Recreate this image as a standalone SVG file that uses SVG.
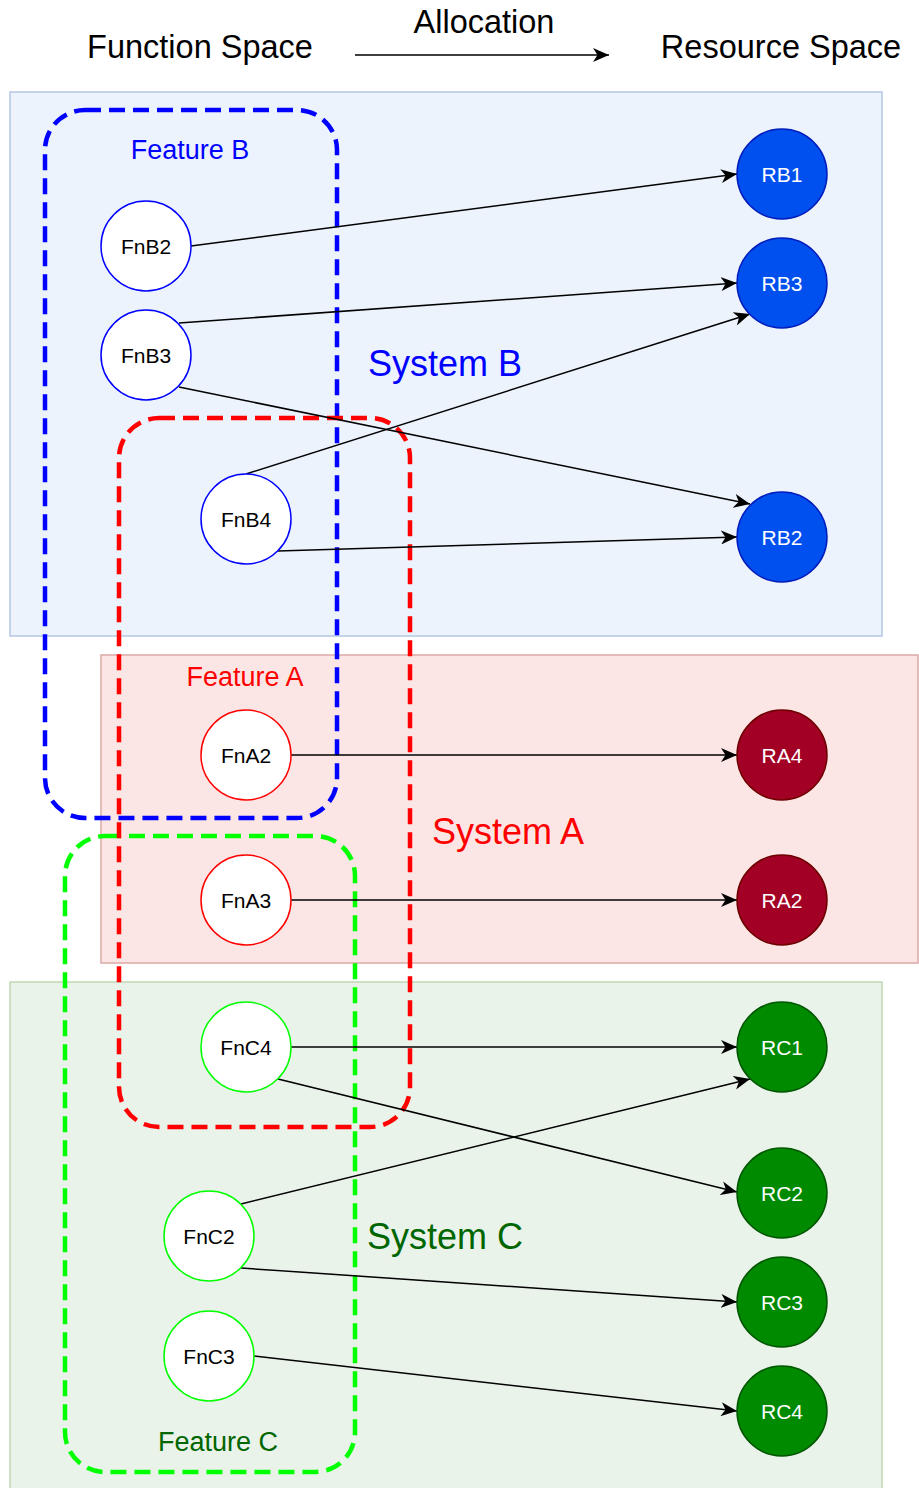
<svg xmlns="http://www.w3.org/2000/svg" width="919" height="1488" viewBox="0 0 919 1488">
  <style>
    text { font-family: "Liberation Sans", Arial, Helvetica, sans-serif; text-anchor: middle; }
    .head { font-size: 32.5px; fill: #000000; }
    .feat { font-size: 27px; }
    .sys { font-size: 36px; }
    .lbl { font-size: 21px; fill: #000000; }
    .rlbl { font-size: 21px; fill: #ffffff; }
    .fn { fill: #ffffff; stroke-width: 1.5; }
    .edge { fill: none; stroke: #000000; stroke-width: 1.5; marker-end: url(#arrow); }
    .group { fill: none; stroke-width: 4.5; stroke-dasharray: 16 8; }
  </style>
  <defs>
    <marker id="arrow" markerUnits="userSpaceOnUse" markerWidth="18" markerHeight="14" refX="16" refY="7" orient="auto">
      <path d="M0,0 L16,7 L0,14 L4.5,7 Z" fill="#000000"/>
    </marker>
  </defs>

  <!-- header -->
  <g id="header">
    <text class="head" x="200" y="58">Function Space</text>
    <text class="head" x="484" y="33">Allocation</text>
    <text class="head" x="781" y="58">Resource Space</text>
    <line class="edge" x1="355" y1="55" x2="609" y2="55"/>
  </g>

  <!-- system panels -->
  <g id="system-b">
    <rect x="10" y="92" width="872" height="544" fill="#ecf3fd" stroke="#b4c7e3" stroke-width="1.5"/>
    <text class="sys" x="445" y="376" fill="#0000ff">System B</text>
  </g>
  <g id="system-a">
    <rect x="101" y="655" width="817" height="308" fill="#fbe6e5" stroke="#dba9a7" stroke-width="1.5"/>
    <text class="sys" x="508" y="844" fill="#ff0000">System A</text>
  </g>
  <g id="system-c">
    <rect x="10" y="982" width="872" height="520" fill="#eaf3ea" stroke="#c0d9b2" stroke-width="1.5"/>
    <text class="sys" x="445" y="1249" fill="#006600">System C</text>
  </g>

  <!-- feature groupings -->
  <g id="feature-b">
    <rect class="group" x="45" y="110" width="292" height="708" rx="40" ry="40" stroke="#0000ff"/>
    <text class="feat" x="190" y="158.5" fill="#0000ff">Feature B</text>
  </g>
  <g id="feature-c">
    <rect class="group" x="65" y="836" width="290" height="636" rx="40" ry="40" stroke="#00ff00"/>
    <text class="feat" x="218" y="1450.5" fill="#006600">Feature C</text>
  </g>
  <g id="feature-a">
    <rect class="group" x="119" y="418" width="291" height="709" rx="40" ry="40" stroke="#ff0000"/>
    <text class="feat" x="245" y="685.5" fill="#ff0000">Feature A</text>
  </g>

  <!-- allocation connectors -->
  <g id="connectors">
    <line class="edge" x1="191" y1="246" x2="737" y2="174"/>
    <line class="edge" x1="179" y1="323" x2="737" y2="283"/>
    <line class="edge" x1="179" y1="387" x2="750" y2="504"/>
    <line class="edge" x1="246" y1="474" x2="750" y2="314"/>
    <line class="edge" x1="278" y1="551" x2="737" y2="537"/>
    <line class="edge" x1="291" y1="755" x2="737" y2="755"/>
    <line class="edge" x1="291" y1="900" x2="737" y2="900"/>
    <line class="edge" x1="291" y1="1047" x2="737" y2="1047"/>
    <line class="edge" x1="278" y1="1079" x2="737" y2="1192"/>
    <line class="edge" x1="241" y1="1204" x2="750" y2="1079"/>
    <line class="edge" x1="241" y1="1268" x2="737" y2="1302"/>
    <line class="edge" x1="254" y1="1356" x2="737" y2="1411"/>
  </g>

  <!-- function nodes -->
  <g id="FnB2"><circle class="fn" cx="146" cy="246" r="45" stroke="#0000ff"/><text class="lbl" x="146" y="253.5">FnB2</text></g>
  <g id="FnB3"><circle class="fn" cx="146" cy="355" r="45" stroke="#0000ff"/><text class="lbl" x="146" y="362.5">FnB3</text></g>
  <g id="FnB4"><circle class="fn" cx="246" cy="519" r="45" stroke="#0000ff"/><text class="lbl" x="246" y="526.5">FnB4</text></g>
  <g id="FnA2"><circle class="fn" cx="246" cy="755" r="45" stroke="#ff0000"/><text class="lbl" x="246" y="762.5">FnA2</text></g>
  <g id="FnA3"><circle class="fn" cx="246" cy="900" r="45" stroke="#ff0000"/><text class="lbl" x="246" y="907.5">FnA3</text></g>
  <g id="FnC4"><circle class="fn" cx="246" cy="1047" r="45" stroke="#00ff00"/><text class="lbl" x="246" y="1054.5">FnC4</text></g>
  <g id="FnC2"><circle class="fn" cx="209" cy="1236" r="45" stroke="#00ff00"/><text class="lbl" x="209" y="1243.5">FnC2</text></g>
  <g id="FnC3"><circle class="fn" cx="209" cy="1356" r="45" stroke="#00ff00"/><text class="lbl" x="209" y="1363.5">FnC3</text></g>

  <!-- resource nodes -->
  <g id="RB1"><circle cx="782" cy="174" r="45" fill="#0050ef" stroke="#001dbc" stroke-width="1.5"/><text class="rlbl" x="782" y="181.5">RB1</text></g>
  <g id="RB3"><circle cx="782" cy="283" r="45" fill="#0050ef" stroke="#001dbc" stroke-width="1.5"/><text class="rlbl" x="782" y="290.5">RB3</text></g>
  <g id="RB2"><circle cx="782" cy="537" r="45" fill="#0050ef" stroke="#001dbc" stroke-width="1.5"/><text class="rlbl" x="782" y="544.5">RB2</text></g>
  <g id="RA4"><circle cx="782" cy="755" r="45" fill="#a20025" stroke="#6f0000" stroke-width="1.5"/><text class="rlbl" x="782" y="762.5">RA4</text></g>
  <g id="RA2"><circle cx="782" cy="900" r="45" fill="#a20025" stroke="#6f0000" stroke-width="1.5"/><text class="rlbl" x="782" y="907.5">RA2</text></g>
  <g id="RC1"><circle cx="782" cy="1047" r="45" fill="#008a00" stroke="#005700" stroke-width="1.5"/><text class="rlbl" x="782" y="1054.5">RC1</text></g>
  <g id="RC2"><circle cx="782" cy="1193" r="45" fill="#008a00" stroke="#005700" stroke-width="1.5"/><text class="rlbl" x="782" y="1200.5">RC2</text></g>
  <g id="RC3"><circle cx="782" cy="1302" r="45" fill="#008a00" stroke="#005700" stroke-width="1.5"/><text class="rlbl" x="782" y="1309.5">RC3</text></g>
  <g id="RC4"><circle cx="782" cy="1411" r="45" fill="#008a00" stroke="#005700" stroke-width="1.5"/><text class="rlbl" x="782" y="1418.5">RC4</text></g>
</svg>
